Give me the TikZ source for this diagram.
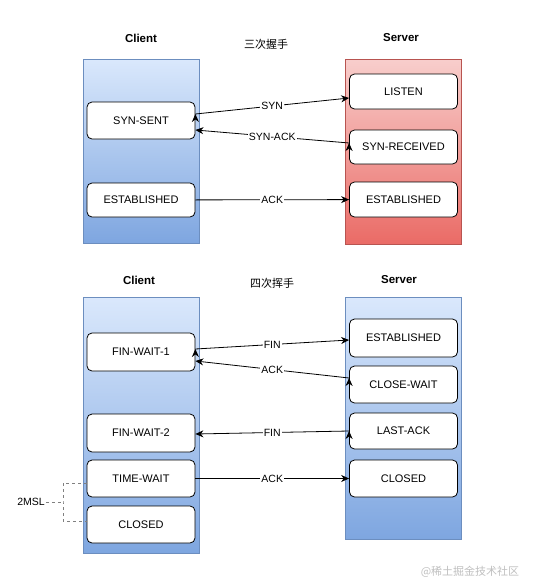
\documentclass[tikz,border=0pt]{standalone}
\usepackage{fontspec}
\setmainfont{Liberation Sans}
\newfontfamily\cjk{Noto Sans CJK SC}
\usetikzlibrary{arrows.meta}

\definecolor{bluetop}{HTML}{DAE8FC}
\definecolor{bluebot}{HTML}{7EA6E0}
\definecolor{blueline}{HTML}{6C8EBF}
\definecolor{redtop}{HTML}{F8CECC}
\definecolor{redbot}{HTML}{EA6B66}
\definecolor{redline}{HTML}{B85450}

\tikzset{
  bluelane/.style={shape=rectangle, draw=blueline, line width=0.7pt, top color=bluetop, bottom color=bluebot, minimum width=116pt},
  redlane/.style={shape=rectangle, draw=redline, line width=0.7pt, top color=redtop, bottom color=redbot, minimum width=116pt},
  state/.style={shape=rectangle, rounded corners=5pt, draw=black, line width=0.8pt, fill=white, minimum width=108pt, minimum height=36pt, font=\fontsize{11}{13}\selectfont},
  head/.style={font=\fontsize{11.5}{13}\selectfont\bfseries},
  title/.style={font=\fontsize{11}{13}\selectfont\cjk},
  msg/.style={draw=black, line width=0.8pt, -{Stealth[length=8pt,width=7pt]}},
  lbl/.style={midway, fill=white, inner sep=1pt, font=\fontsize{10.5}{12}\selectfont}
}

\begin{document}
\begin{tikzpicture}[x=1pt, y=-1pt]
	\useasboundingbox (0, 0) rectangle (533, 582);

	% three-way handshake
	\node[head] (c1) at (141, 38) {Client};
	\node[title] (t1) at (266, 44) {三次握手};
	\node[head] (s1) at (401, 38) {Server};

	\node[bluelane, minimum height=184pt] (cl1) at (141, 151) {};
	\node[redlane, minimum height=185pt] (sl1) at (403.5, 151.5) {};

	\node[state, minimum height=37pt] (synsent) at (141, 120.5) {SYN-SENT};
	\node[state, minimum height=34pt] (cest1) at (141, 200) {ESTABLISHED};

	\node[state, minimum height=35pt] (listen) at (403.5, 91.5) {LISTEN};
	\node[state, minimum height=34pt] (synrcvd) at (403.5, 147) {SYN-RECEIVED};
	\node[state, minimum height=35pt] (sest1) at (403.5, 199.5) {ESTABLISHED};

	\path[msg] ([yshift=6.5pt]synsent.east) edge node[lbl] {SYN} ([yshift=-6.5pt]listen.west);
	\path[msg] ([yshift=4pt]synrcvd.west) edge node[lbl] {SYN-ACK} ([yshift=-9.5pt]synsent.east);
	\path[msg] (cest1) edge node[lbl] {ACK} (sest1);

	% four-way handshake
	\node[head] (c2) at (139, 280) {Client};
	\node[title] (t2) at (272, 283) {四次挥手};
	\node[head] (s2) at (399, 280) {Server};

	\node[bluelane, minimum height=256pt] (cl2) at (141, 425) {};
	\node[bluelane, minimum height=242pt] (sl2) at (403.5, 418) {};

	\node[state, minimum height=38pt] (fw1) at (141, 352) {FIN-WAIT-1};
	\node[state, minimum height=38pt] (fw2) at (141, 433) {FIN-WAIT-2};
	\node[state, minimum height=37pt] (tw) at (141, 478.5) {TIME-WAIT};
	\node[state, minimum height=37pt] (cclosed) at (141, 524.5) {CLOSED};

	\node[state, minimum height=38pt] (sest2) at (403.5, 338) {ESTABLISHED};
	\node[state, minimum height=37pt] (cw) at (403.5, 384.5) {CLOSE-WAIT};
	\node[state, minimum height=36pt] (lastack) at (403.5, 431) {LAST-ACK};
	\node[state, minimum height=37pt] (sclosed) at (403.5, 478.5) {CLOSED};

	\path[msg] ([yshift=3pt]fw1.east) edge node[lbl] {FIN} ([yshift=-2pt]sest2.west);
	\path[msg] ([yshift=6.5pt]cw.west) edge node[lbl] {ACK} ([yshift=-9pt]fw1.east);
	\path[msg] (lastack.west) edge node[lbl] {FIN} ([yshift=-1pt]fw2.east);
	\path[msg] (tw) edge node[lbl] {ACK} (sclosed);

	% 2MSL bracket
	\node[font=\fontsize{10.5}{12}\selectfont, inner sep=1pt] (msl) at (31, 502) {2MSL};
	\coordinate (bend) at (63, 502);
	\draw[gray, dashed, line width=0.8pt] ([yshift=-4.5pt]tw.west) -| (bend) |- ([yshift=3.5pt]cclosed.west);
	\draw[gray, dashed, line width=0.8pt] (msl) -- (bend);

	\node[font=\fontsize{11}{13}\selectfont\cjk, text=black!25] (mark) at (470, 572) {@稀土掘金技术社区};
\end{tikzpicture}
\end{document}
